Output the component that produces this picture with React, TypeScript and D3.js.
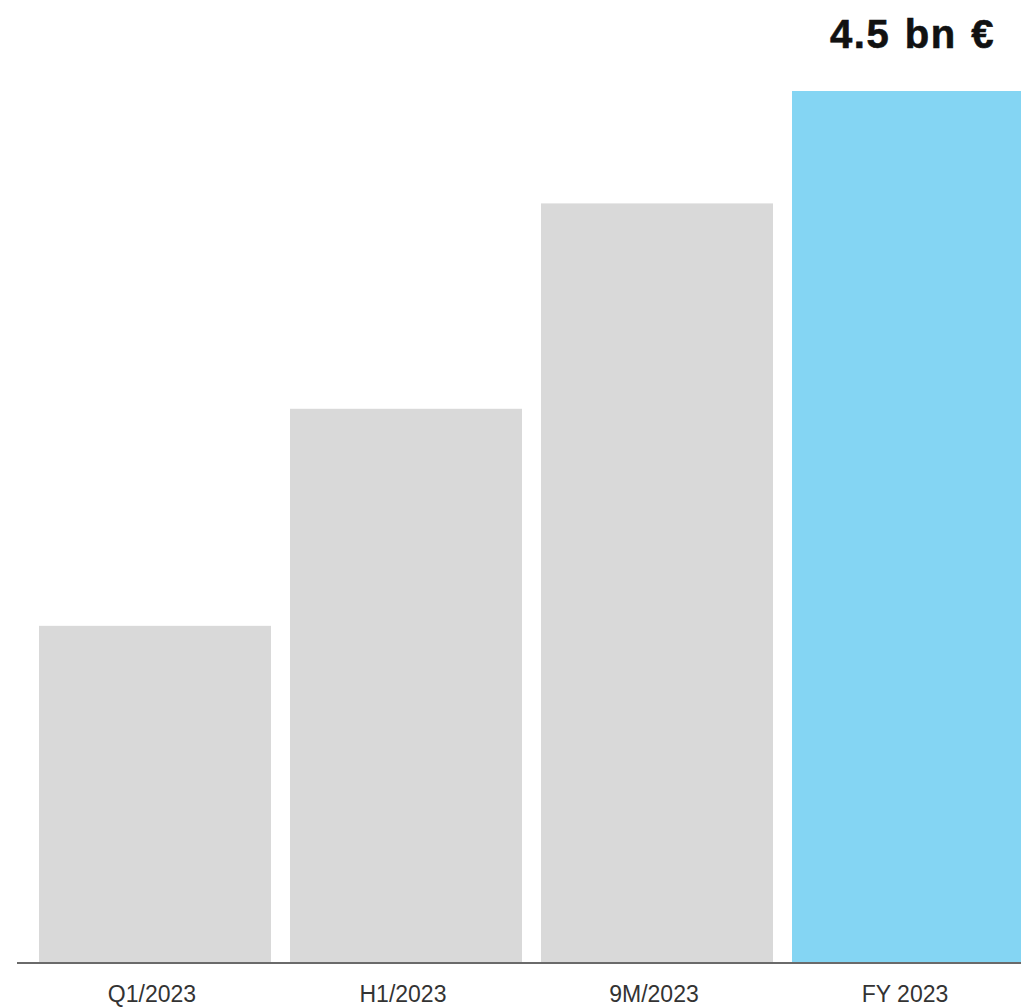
import React from "react";
import * as d3 from "d3";

const categories = ["Q1/2023", "H1/2023", "9M/2023", "FY 2023"];
const values = [1.74, 2.86, 3.92, 4.5];
const highlight = [false, false, false, true];
const totalLabel = "4.5 bn €";

export default function App() {
  const W = 1021;
  const H = 1007;
  const baseY = 963;
  const x = d3.scaleBand<string>().domain(categories).range([39, 1024]).paddingInner(0.0757).paddingOuter(0);
  const y = d3.scaleLinear().domain([0, 4.5]).range([baseY, 91]);
  return (
    <svg width={W} height={H} style={{ position: "absolute", left: 0, top: 0, background: "#fff" }}>
      {categories.map((c, i) => (
        <rect
          key={c}
          x={x(c)}
          y={y(values[i])}
          width={x.bandwidth()}
          height={baseY - y(values[i])}
          fill={highlight[i] ? "#84d5f3" : "#d9d9d9"}
        />
      ))}
      <line x1={17} x2={W} y1={baseY} y2={baseY} stroke="#6a6a6a" strokeWidth={2} />
      {categories.map((c) => (
        <text
          key={c}
          x={(x(c) as number) + x.bandwidth() / 2 - 3}
          y={1002}
          textAnchor="middle"
          fontFamily="Liberation Sans, Arial, sans-serif"
          fontSize={23}
          fill="#333"
        >
          {c}
        </text>
      ))}
      <text
        x={995}
        y={48}
        textAnchor="end"
        fontFamily="Liberation Sans, Arial, sans-serif"
        fontWeight={700}
        fontSize={40}
        letterSpacing={1.5}
        wordSpacing={2}
        fill="#111"
        stroke="#111"
        strokeWidth={0.6}
      >
        {totalLabel}
      </text>
    </svg>
  );
}
